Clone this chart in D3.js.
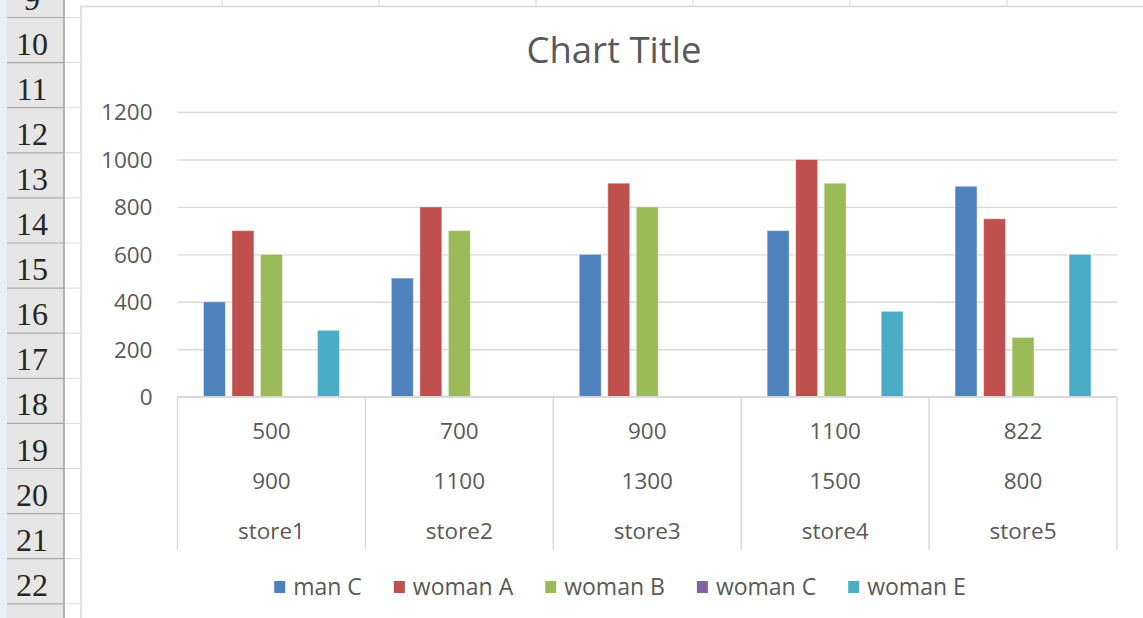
<!DOCTYPE html>
<html><head><meta charset="utf-8">
<script src="https://cdn.jsdelivr.net/npm/d3@7"></script>
<style>
html,body{margin:0;padding:0;background:#fff;}
svg{display:block;font-family:"Open Sans",sans-serif;}
</style></head>
<body>
<svg id="c" width="1143" height="618"></svg>
<script>
// ---- data ----
const stores = ["store1","store2","store3","store4","store5"];
const levelA = ["500","700","900","1100","822"];
const levelB = ["900","1100","1300","1500","800"];
const seriesNames = ["man C","woman A","woman B","woman C","woman E"];
const manC   = [400, 500, 600, 700, 887];
const womanA = [700, 800, 900, 1000, 750];
const womanB = [600, 700, 800, 900, 250];
const womanC = [null, null, null, null, null];
const womanE = [280, null, null, 360, 600];
const yTicks = [0, 200, 400, 600, 800, 1000, 1200];
const rowNumbers = [9,10,11,12,13,14,15,16,17,18,19,20,21,22,23];
const colors = ["#4f81bd","#c0504d","#9bbb59","#8064a2","#4bacc6"];

const seriesValues = [manC, womanA, womanB, womanC, womanE];
const svg = d3.select("#c");
const W = 1143, H = 618;

// ---- spreadsheet backdrop ----
const rowTop0 = -27.6, rowH = 45.1;
const rowScale = d3.scaleLinear().domain([9, 10]).range([rowTop0, rowTop0 + rowH]);
svg.append("rect").attr("x",0).attr("y",0).attr("width",7).attr("height",H).attr("fill","#e9f0fb");
svg.append("rect").attr("x",7).attr("y",0).attr("width",57).attr("height",H).attr("fill","#e6e6e6");
svg.append("line").attr("x1",64).attr("x2",64).attr("y1",0).attr("y2",H).attr("stroke","#9e9e9e").attr("stroke-width",1.5);
rowNumbers.forEach(r => {
  const yb = rowScale(r + 1);
  svg.append("line").attr("x1",7).attr("x2",64).attr("y1",yb).attr("y2",yb).attr("stroke","#ababab").attr("stroke-width",1.2);
  svg.append("line").attr("x1",65).attr("x2",82).attr("y1",yb).attr("y2",yb).attr("stroke","#dadada").attr("stroke-width",1);
  svg.append("text").attr("x",32).attr("y",yb - 8).attr("text-anchor","middle")
    .attr("font-family","Liberation Serif, serif").attr("font-size",32).attr("fill","#262626").text(r);
});
// column lines above chart
[222,379,536,693,850,1007].forEach(x=>{
  svg.append("line").attr("x1",x).attr("x2",x).attr("y1",0).attr("y2",7).attr("stroke","#dadada").attr("stroke-width",1.2);
});

// ---- chart area ----
const chartX = 81, chartY = 6.5;
svg.append("rect").attr("x",chartX).attr("y",chartY).attr("width",W+20-chartX).attr("height",H)
  .attr("fill","#fff").attr("stroke","#d9d9d9").attr("stroke-width",1.5);

svg.append("text").attr("x",614).attr("y",63).attr("text-anchor","middle")
  .attr("font-size",36.5).attr("fill","#595959").text("Chart Title");

const plotL = 177.5, plotR = 1117, plotT = 112, plotB = 396.7;
const y = d3.scaleLinear().domain([0,1200]).range([plotB, plotT]);
const x0 = d3.scaleBand().domain(stores).range([plotL, plotR]).paddingInner(0).paddingOuter(0);
const bw = x0.bandwidth();
const x1 = d3.scaleBand().domain(seriesNames).range([bw*0.138, bw*0.862]).paddingInner(0.228);

// gridlines + y labels
const yAxis = d3.axisLeft(y).tickValues(yTicks).tickSize(-(plotR-plotL)).tickPadding(25).tickFormat(d3.format("d"));
const gy = svg.append("g").attr("transform",`translate(${plotL},0)`).call(yAxis);
gy.select(".domain").remove();
gy.selectAll(".tick line").attr("stroke","#d9d9d9").attr("stroke-width",1.4);
gy.selectAll(".tick text").attr("fill","#595959").attr("font-size",22.5).attr("font-family","Open Sans, sans-serif").attr("dy","0.35em");

// bars
const flat = [];
stores.forEach((s,i)=>seriesNames.forEach((n,j)=>{
  const v = seriesValues[j][i];
  if (v != null) flat.push({store:s, name:n, value:v, color:colors[j]});
}));
svg.append("g").selectAll("rect").data(flat).join("rect")
  .attr("x", d => x0(d.store) + x1(d.name))
  .attr("width", x1.bandwidth())
  .attr("y", d => y(d.value))
  .attr("height", d => y(0) - y(d.value))
  .attr("fill", d => d.color)
  .attr("stroke","#ffffff").attr("stroke-opacity",0.45).attr("stroke-width",1);

// category axis (multi-level)
const axisBottom = 550;
svg.append("line").attr("x1",plotL).attr("x2",plotR).attr("y1",plotB).attr("y2",plotB).attr("stroke","#d9d9d9").attr("stroke-width",1.4);
const edges = stores.map(s=>x0(s)).concat([x0(stores[stores.length-1]) + bw]);
svg.append("g").selectAll("line").data(edges).join("line")
  .attr("x1",d=>d).attr("x2",d=>d).attr("y1",plotB).attr("y2",axisBottom)
  .attr("stroke","#d9d9d9").attr("stroke-width",1.4);
const levels = [{labels:levelA, y:431},{labels:levelB, y:481},{labels:stores, y:531}];
levels.forEach(l=>{
  svg.append("g").selectAll("text").data(stores).join("text")
    .attr("x", s => x0(s) + bw/2)
    .attr("y", l.y).attr("dy","0.35em")
    .attr("text-anchor","middle").attr("font-size",22.5).attr("fill","#595959")
    .text((s,i)=>l.labels[i]);
});

// legend
const lg = svg.append("g");
let cx = 0;
const gap = 32;
seriesNames.forEach((n,j)=>{
  const g = lg.append("g").attr("transform",`translate(${cx},0)`);
  g.append("rect").attr("x",0).attr("y",-6).attr("width",11).attr("height",12).attr("fill",colors[j]);
  const t = g.append("text").attr("x",19).attr("y",0).attr("dy","0.35em").attr("font-size",23).attr("fill","#595959").text(n);
  const w = t.node().getComputedTextLength();
  cx += 19 + w + gap;
});
const total = cx - gap;
lg.attr("transform",`translate(${620 - total/2},587)`);
</script>
</body></html>
